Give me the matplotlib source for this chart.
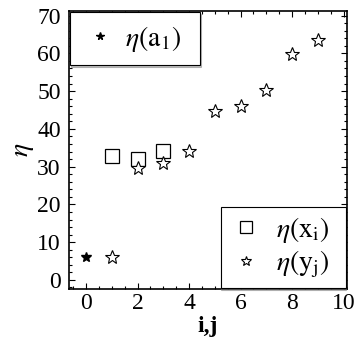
import matplotlib
matplotlib.use("Agg")
import matplotlib.pyplot as plt
from matplotlib.lines import Line2D
from matplotlib.ticker import MultipleLocator

plt.rcParams["font.family"] = ["Liberation Serif", "DejaVu Serif"]
plt.rcParams["mathtext.fontset"] = "stix"

# eta(a_1)
a_idx = [0]
eta_a = [6.0]

# eta(x_i)
x_idx = [1, 2, 3]
eta_x = [32.9, 32.0, 34.2]

# eta(y_j)
y_idx = [1, 2, 3, 4, 5, 6, 7, 8, 9]
eta_y = [6.0, 29.6, 30.9, 34.1, 44.7, 46.0, 50.3, 59.8, 63.5]

fig = plt.figure(figsize=(3.55, 3.49), dpi=100)
ax = fig.add_axes([69 / 355, 60 / 349, 278 / 355, 278 / 349])

ax.plot(a_idx, eta_a, ls="none", marker="*", ms=7.5, color="black")
ax.plot(x_idx, eta_x, ls="none", marker="s", ms=10.5, mfc="none",
        mec="black", mew=0.9)
ax.plot(y_idx, eta_y, ls="none", marker="*", ms=10, mfc="white",
        mec="black", mew=0.8)

ax.set_xlim(-0.66, 10.13)
ax.set_ylim(-2.4, 71.2)
ax.xaxis.set_major_locator(MultipleLocator(2))
ax.xaxis.set_minor_locator(MultipleLocator(0.5))
ax.yaxis.set_major_locator(MultipleLocator(10))
ax.yaxis.set_minor_locator(MultipleLocator(2))
ax.tick_params(which="both", direction="in", top=True, right=True,
               labelsize=17, width=0.8)
ax.tick_params(which="major", length=4)
ax.tick_params(which="minor", length=2)
ax.tick_params(axis="y", pad=6)
ax.tick_params(axis="x", pad=3)
for s in ax.spines.values():
    s.set_linewidth(1.2)

ax.set_xlabel("i,j", fontsize=17, fontweight="bold", labelpad=1)
ax.set_ylabel(r"$\eta$", fontsize=20, labelpad=1)

# legend handles drawn a little smaller than the data marks
lh_a = Line2D([], [], ls="none", marker="*", ms=5.5, color="black")
lh_x = Line2D([], [], ls="none", marker="s", ms=9, mfc="none",
              mec="black", mew=0.9)
lh_y = Line2D([], [], ls="none", marker="*", ms=7.5, mfc="white",
              mec="black", mew=0.8)
shadow = {"ox": 0.5, "oy": -1.5, "color": "0.5"}
pad = "\u00a0"

leg1 = ax.legend([lh_a], [r"$\eta(\mathrm{a}_1)$" + pad * 2], loc="upper left",
                 fontsize=20, fancybox=False, shadow=shadow, framealpha=1,
                 edgecolor="black", borderaxespad=0.05, borderpad=0.4,
                 handlelength=1.3, handletextpad=0.25)
leg1.get_frame().set_linewidth(0.8)
ax.add_artist(leg1)
leg2 = ax.legend([lh_x, lh_y],
                 [r"$\eta(\mathrm{x}_\mathrm{i})$" + pad * 2,
                  r"$\eta(\mathrm{y}_\mathrm{j})$" + pad * 2],
                 loc="lower right", fontsize=20, fancybox=False, shadow=shadow,
                 framealpha=1, edgecolor="black", borderaxespad=0.05,
                 borderpad=0.28, handlelength=1.3, handletextpad=0.43,
                 labelspacing=0.12)
leg2.get_frame().set_linewidth(0.8)

fig.savefig("out.png", dpi=100)
